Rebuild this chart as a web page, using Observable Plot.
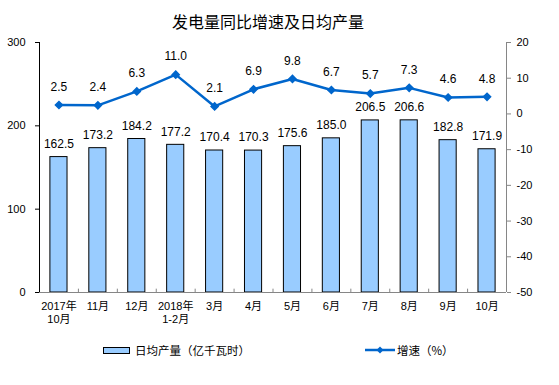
<!DOCTYPE html>
<html><head><meta charset="utf-8">
<script src="https://cdn.jsdelivr.net/npm/d3@7"></script>
<script src="https://cdn.jsdelivr.net/npm/@observablehq/plot@0.6"></script>
<style>
body{margin:0;background:#fff;width:559px;height:385px;overflow:hidden;font-family:"Liberation Sans",Arial,sans-serif}
#title{box-sizing:border-box;height:32px;padding-top:12px;width:536px;text-align:center;font:16px/18px "Noto Sans CJK SC",sans-serif;color:#000}
#chart svg{display:block}
#legend{position:relative;height:50px;font:11.5px/18px "Noto Sans CJK SC",sans-serif;color:#000}
.sw{position:absolute;left:103px;top:12px;width:27px;height:7px;box-sizing:border-box;border:1px solid #000;background:#99CCFF}
.t1{position:absolute;left:135px;top:6px}
.ln{position:absolute;left:364px;top:9px}
.t2{position:absolute;left:397px;top:6px}
</style></head><body>
<div id="title">发电量同比增速及日均产量</div>
<div id="chart"></div>
<div id="legend">
  <div class="sw"></div><div class="t1">日均产量（亿千瓦时）</div>
  <svg class="ln" width="32" height="12"><line x1="1" y1="6" x2="31" y2="6" stroke="#0066CC" stroke-width="2.5"/><path d="M16,2.5L19.5,6L16,9.5L12.5,6Z" fill="#0066CC"/></svg>
  <div class="t2">增速（%）</div>
</div>
<script>
const months = ["2017年\n10月","11月","12月","2018年\n1-2月","3月","4月","5月","6月","7月","8月","9月","10月"];
const output = [162.5,173.2,184.2,177.2,170.4,170.3,175.6,185.0,206.5,206.6,182.8,171.9];
const growth = [2.5,2.4,6.3,11.0,2.1,6.9,9.8,6.7,5.7,7.3,4.6,4.8];
const leftTicks = [0,100,200,300];
const rightTicks = [20,10,0,-10,-20,-30,-40,-50];

const toLeft = g => (g + 50) * 300 / 70;
const fromLeft = v => Math.round(v * 70 / 300 - 50);
const data = months.map((m, i) => ({i, m, output: output[i], growth: growth[i]}));
const bounds = d3.range(0.5, 11, 1);

const chart = Plot.plot({
  width: 559, height: 303,
  marginTop: 10, marginBottom: 43, marginLeft: 39, marginRight: 53,
  x: {type: "linear", domain: [-0.5, 11.5]},
  y: {domain: [0, 300]},
  style: {fontFamily: '"Liberation Sans","Noto Sans CJK SC",sans-serif', fontSize: "11px", color: "#000", background: "#fff"},
  marks: [
    Plot.rectY(data, {x1: d => d.i - 0.22, x2: d => d.i + 0.22, y: "output", fill: "#99CCFF", stroke: "#000", strokeWidth: 1}),
    Plot.text(data, {x: "i", y: "output", text: d => d.output.toFixed(1), dy: -13, fontSize: 12, fill: "#000"}),
    Plot.ruleY([0], {stroke: "#868686"}),
    Plot.ruleX(bounds, {y1: 0, y2: 4, stroke: "#868686"}),
    Plot.ruleX([-0.5], {stroke: "#000"}),
    Plot.ruleX([11.5], {stroke: "#868686"}),
    Plot.line(data, {x: "i", y: d => toLeft(d.growth), stroke: "#0066CC", strokeWidth: 2.5}),
    Plot.dot(data, {x: "i", y: d => toLeft(d.growth), symbol: "diamond2", r: 3.2, fill: "#0066CC", stroke: "#0066CC"}),
    Plot.text(data, {x: "i", y: d => toLeft(d.growth), text: d => d.growth.toFixed(1), dy: -18, fontSize: 12, fill: "#000"}),
    Plot.axisY(leftTicks, {anchor: "left", tickSize: 4, tickPadding: 10, label: null, stroke: "#000", fontSize: 11}),
    Plot.axisY(rightTicks.map(toLeft), {anchor: "right", tickSize: 4, tickPadding: 6, label: null, stroke: "#868686", tickFormat: fromLeft, fontSize: 11, textAnchor: "start"}),
    Plot.axisX(d3.range(12), {tickSize: 0, tickPadding: 9, label: null, tickFormat: i => months[i], lineHeight: 1.15, fontSize: 11})
  ]
});
document.getElementById("chart").appendChild(chart);
</script>
</body></html>
